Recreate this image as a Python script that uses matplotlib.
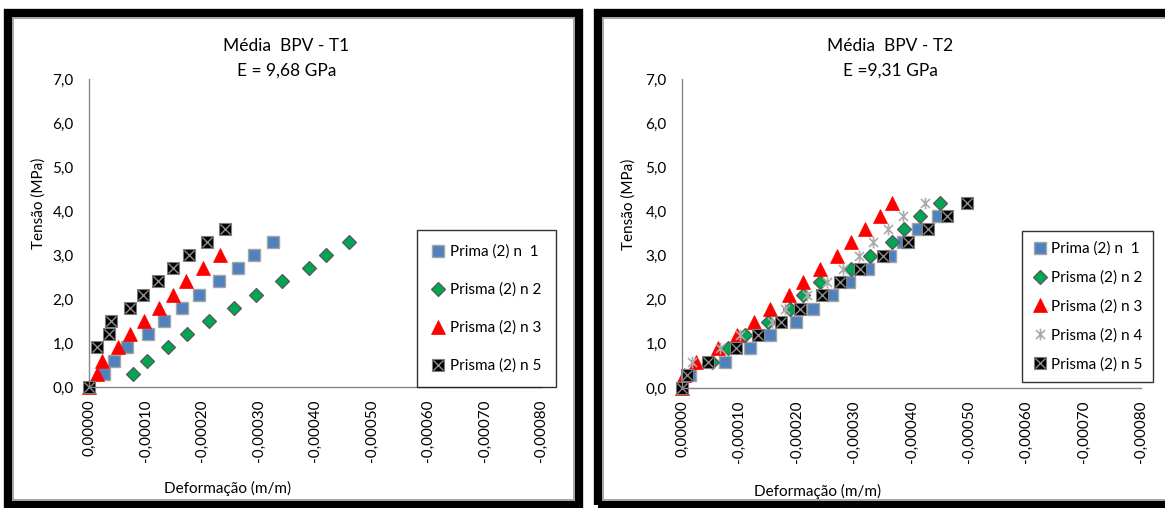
import numpy as np
import matplotlib
matplotlib.use('Agg')
import matplotlib.pyplot as plt
from matplotlib.path import Path
from matplotlib.patches import Rectangle
from matplotlib.ticker import FuncFormatter, MultipleLocator
from matplotlib.legend_handler import HandlerTuple

plt.rcParams['font.family'] = ['Lato', 'DejaVu Sans']

W, H = 1165, 508

# ---- data: tensao (MPa) vs deformacao (m/m) ----
# T1
t1_n1_def = [-0.000027, -0.000044, -0.000067, -0.000104, -0.000133, -0.000165,
             -0.000195, -0.000230, -0.000264, -0.000292, -0.000326]
t1_n1_ten = [0.3, 0.6, 0.9, 1.2, 1.5, 1.8, 2.1, 2.4, 2.7, 3.0, 3.3]
t1_n2_def = [-0.000078, -0.000103, -0.000140, -0.000173, -0.000212, -0.000257,
             -0.000296, -0.000342, -0.000389, -0.000419, -0.000460]
t1_n2_ten = [0.3, 0.6, 0.9, 1.2, 1.5, 1.8, 2.1, 2.4, 2.7, 3.0, 3.3]
t1_n3_def = [0.0, -0.000014, -0.000023, -0.000051, -0.000073, -0.000097,
             -0.000124, -0.000149, -0.000172, -0.000202, -0.000232]
t1_n3_ten = [0.0, 0.3, 0.6, 0.9, 1.2, 1.5, 1.8, 2.1, 2.4, 2.7, 3.0]
t1_n5_def = [0.0, -0.000014, -0.000035, -0.000039, -0.000073, -0.000096,
             -0.000122, -0.000149, -0.000177, -0.000209, -0.000241]
t1_n5_ten = [0.0, 0.9, 1.2, 1.5, 1.8, 2.1, 2.4, 2.7, 3.0, 3.3, 3.6]

# T2
t2_n1_def = [-0.000014, -0.000075, -0.000118, -0.000153, -0.000199, -0.000228,
             -0.000261, -0.000291, -0.000324, -0.000362, -0.000385, -0.000411,
             -0.000446]
t2_n1_ten = [0.3, 0.6, 0.9, 1.2, 1.5, 1.8, 2.1, 2.4, 2.7, 3.0, 3.3, 3.6, 3.9]
t2_n2_def = [-0.000052, -0.000080, -0.000110, -0.000150, -0.000188, -0.000211,
             -0.000240, -0.000294, -0.000328, -0.000366, -0.000387, -0.000415,
             -0.000449]
t2_n2_ten = [0.6, 0.9, 1.2, 1.5, 1.8, 2.1, 2.4, 2.7, 3.0, 3.3, 3.6, 3.9, 4.2]
t2_n3_def = [0.0, -0.000003, -0.000024, -0.000063, -0.000096, -0.000125,
             -0.000153, -0.000186, -0.000211, -0.000240, -0.000270, -0.000294,
             -0.000319, -0.000345, -0.000366]
t2_n3_ten = [0.0, 0.3, 0.6, 0.9, 1.2, 1.5, 1.8, 2.1, 2.4, 2.7, 3.0, 3.3, 3.6,
             3.9, 4.2]
t2_n4_def = [-0.000017, -0.000066, -0.000101, -0.000157, -0.000179, -0.000218,
             -0.000253, -0.000280, -0.000308, -0.000333, -0.000359, -0.000385,
             -0.000423]
t2_n4_ten = [0.6, 0.9, 1.2, 1.5, 1.8, 2.1, 2.4, 2.7, 3.0, 3.3, 3.6, 3.9, 4.2]
t2_n5_def = [0.0, -0.000009, -0.000045, -0.000094, -0.000132, -0.000172,
             -0.000206, -0.000244, -0.000275, -0.000310, -0.000350, -0.000394,
             -0.000429, -0.000462, -0.000497]
t2_n5_ten = [0.0, 0.3, 0.6, 0.9, 1.2, 1.5, 1.8, 2.1, 2.4, 2.7, 3.0, 3.3, 3.6,
             3.9, 4.2]

titles = [("Média  BPV - T1", "E = 9,68 GPa"), ("Média  BPV - T2", "E =9,31 GPa")]
labsL = ['Prima (2) n  1', 'Prisma (2) n 2', 'Prisma (2) n 3', 'Prisma (2) n 5']
labsR = ['Prima (2) n  1', 'Prisma (2) n 2', 'Prisma (2) n 3', 'Prisma (2) n 4', 'Prisma (2) n 5']

BLUE = '#4F81BD'
GREEN = '#00A651'
RED = '#FF0000'
GREY = '#ABABAB'
AXIS = '#868686'

# asterisk marker: x plus vertical bar
STAR = Path([(-1, -1), (1, 1), (-1, 1), (1, -1), (0, -1.3), (0, 1.3)],
            [Path.MOVETO, Path.LINETO, Path.MOVETO, Path.LINETO, Path.MOVETO, Path.LINETO])


def fx(x):
    return x / W


def fy(y):
    return 1 - y / H


def fmt_def(v, pos):
    if abs(v) < 1e-12:
        v = 0.0
    return f"{v:.5f}".replace('.', ',')


def fmt_ten(v, pos):
    return f"{v:.1f}".replace('.', ',')


def series(ax, x, y, kind):
    kw = dict(ls='none', clip_on=False)
    if kind == 'n1':
        return ax.plot(x, y, 's', ms=8, mfc=BLUE, mec='#A5A5A5', mew=1.0, **kw)[0]
    if kind == 'n2':
        return ax.plot(x, y, 'D', ms=7, mfc=GREEN, mec='#595959', mew=0.9, **kw)[0]
    if kind == 'n3':
        return ax.plot(x, y, '^', ms=9.5, mfc=RED, mec=RED, mew=0.5, **kw)[0]
    if kind == 'n4':
        return ax.plot(x, y, marker=STAR, ms=8.5, mfc='none', mec=GREY, mew=1.2, **kw)[0]
    h1 = ax.plot(x, y, 's', ms=8.5, mfc='black', mec='#7F7F7F', mew=0.8, **kw)[0]
    h2 = ax.plot(x, y, 'x', ms=7, mec='#8C8C8C', mew=1.0, **kw)[0]
    return (h1, h2)


def setup_axes(ax):
    ax.set_xlim(0, -0.0008)
    ax.set_ylim(0, 7.0)
    ax.xaxis.set_major_locator(MultipleLocator(0.0001))
    ax.yaxis.set_major_locator(MultipleLocator(1.0))
    ax.xaxis.set_major_formatter(FuncFormatter(fmt_def))
    ax.yaxis.set_major_formatter(FuncFormatter(fmt_ten))
    ax.tick_params(axis='both', length=0, labelsize=11, colors='black')
    ax.tick_params(axis='x', labelrotation=90, pad=9)
    ax.tick_params(axis='y', pad=11)
    for s in ['top', 'right']:
        ax.spines[s].set_visible(False)
    for s in ['left', 'bottom']:
        ax.spines[s].set_color(AXIS)
        ax.spines[s].set_linewidth(1.0)
    ax.patch.set_alpha(0)


def add_legend(ax, handles, labels, x0, y0, spacing, bpad):
    leg = ax.legend(handles, labels, loc='upper left',
                    bbox_to_anchor=(fx(x0), fy(y0)), bbox_transform=fig.transFigure,
                    frameon=True, fancybox=False, edgecolor='black', fontsize=11,
                    labelspacing=spacing, handlelength=0.9, handletextpad=0.3,
                    borderpad=bpad, borderaxespad=0,
                    handler_map={tuple: HandlerTuple(ndivide=1, pad=0)})
    leg.get_frame().set_linewidth(1.0)
    return leg


fig = plt.figure(figsize=(W / 100, H / 100), dpi=100)
fig.patch.set_facecolor('white')

# panel frames
for x0, x1 in [(8, 579), (598, 1172)]:
    fig.patches.append(Rectangle((fx(x0), fy(505)), fx(x1 - x0), (505 - 13) / H,
                                 transform=fig.transFigure, fill=False,
                                 ec='black', lw=6, zorder=0))
    fig.patches.append(Rectangle((fx(x0 + 5), fy(500)), fx(x1 - x0 - 10), (500 - 18) / H,
                                 transform=fig.transFigure, fill=False,
                                 ec='#9A9A9A', lw=1.2, zorder=0))

# ---- left chart ----
axL = fig.add_axes([fx(89), fy(387), fx(541 - 89), (387 - 79) / H])
hL = [series(axL, t1_n1_def, t1_n1_ten, 'n1'),
      series(axL, t1_n2_def, t1_n2_ten, 'n2'),
      series(axL, t1_n3_def, t1_n3_ten, 'n3'),
      series(axL, t1_n5_def, t1_n5_ten, 'n5')]
setup_axes(axL)
add_legend(axL, hL, labsL, 417, 230, 1.55, 0.95)

fig.text(fx(286), fy(46), titles[0][0], ha='center', va='center', fontsize=12.5)
fig.text(fx(287), fy(71), titles[0][1], ha='center', va='center', fontsize=12.5)
fig.text(fx(39), fy(203), 'Tensão (MPa)', rotation=90, ha='center', va='center', fontsize=11)
fig.text(fx(228), fy(488), 'Deformação (m/m)', ha='center', va='center', fontsize=11)

# ---- right chart ----
axR = fig.add_axes([fx(682), fy(388), fx(1141 - 682), (388 - 79) / H])
hR = [series(axR, t2_n1_def, t2_n1_ten, 'n1'),
      series(axR, t2_n2_def, t2_n2_ten, 'n2'),
      series(axR, t2_n3_def, t2_n3_ten, 'n3'),
      series(axR, t2_n4_def, t2_n4_ten, 'n4'),
      series(axR, t2_n5_def, t2_n5_ten, 'n5')]
setup_axes(axR)
add_legend(axR, hR, labsR, 1022, 231, 0.95, 0.7)

fig.text(fx(890), fy(46), titles[1][0], ha='center', va='center', fontsize=12.5)
fig.text(fx(890), fy(71), titles[1][1], ha='center', va='center', fontsize=12.5)
fig.text(fx(629), fy(204), 'Tensão (MPa)', rotation=90, ha='center', va='center', fontsize=11)
fig.text(fx(818), fy(491), 'Deformação (m/m)', ha='center', va='center', fontsize=11)

fig.savefig('out.png', dpi=100)
